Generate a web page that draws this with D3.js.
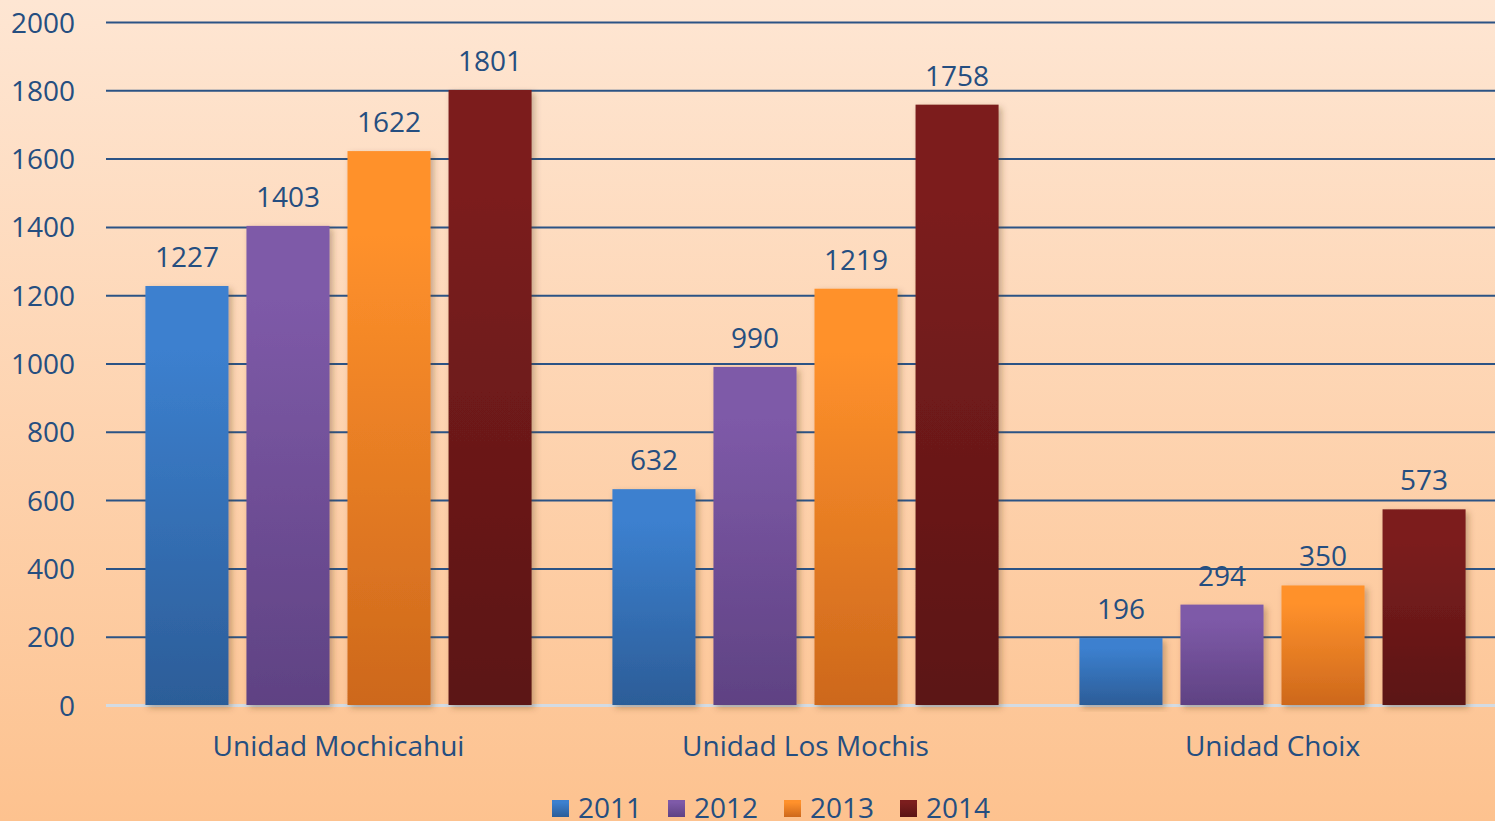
<!DOCTYPE html>
<html>
<head>
<meta charset="utf-8">
<script src="https://cdn.jsdelivr.net/npm/d3@7"></script>
<style>
  html, body { margin: 0; padding: 0; }
  body { width: 1495px; height: 821px; overflow: hidden; }
  svg { display: block; }
</style>
</head>
<body>
<div id="chart"></div>
<script>
const categories = ['Unidad Mochicahui', 'Unidad Los Mochis', 'Unidad Choix'];
const years = ['2011', '2012', '2013', '2014'];
const values2011 = [1227, 632, 196];
const values2012 = [1403, 990, 294];
const values2013 = [1622, 1219, 350];
const values2014 = [1801, 1758, 573];
const yTicks = [0, 200, 400, 600, 800, 1000, 1200, 1400, 1600, 1800, 2000];

const seriesValues = [values2011, values2012, values2013, values2014];
const topColors = ['#3c80cf', '#7e5aa8', '#ff912b', '#7c1e1e'];
const bottomColors = ['#2c5d98', '#5f4283', '#cd681c', '#5b1414'];

const chartWidth = 1495;
const chartHeight = 821;
const plotLeft = 106;
const plotRight = 1506; // category bands run a little past the canvas edge
const plotTop = 22;
const plotBottom = 705;
const textColor = '#254e80';
const font = '"Open Sans", "Noto Sans", sans-serif';
const fontSize = '28px';

const svg = d3.select('#chart')
  .append('svg')
  .attr('width', chartWidth)
  .attr('height', chartHeight);

const defs = svg.append('defs');

const bg = defs.append('linearGradient')
  .attr('id', 'bg')
  .attr('x1', 0).attr('y1', 0).attr('x2', 0).attr('y2', 1);
bg.append('stop').attr('offset', 0).attr('stop-color', '#fee6d3');
bg.append('stop').attr('offset', 1).attr('stop-color', '#fdc28f');

years.forEach((y, i) => {
  const g = defs.append('linearGradient')
    .attr('id', `bar${i}`)
    .attr('x1', 0).attr('y1', 0).attr('x2', 0).attr('y2', 1);
  g.append('stop').attr('offset', 0).attr('stop-color', topColors[i]);
  g.append('stop').attr('offset', 0.15).attr('stop-color', topColors[i]);
  g.append('stop').attr('offset', 1).attr('stop-color', bottomColors[i]);
});

const shadow = defs.append('filter')
  .attr('id', 'shadow')
  .attr('x', '-20%').attr('y', '-5%').attr('width', '140%').attr('height', '115%');
shadow.append('feDropShadow')
  .attr('dx', 3).attr('dy', 3).attr('stdDeviation', 3)
  .attr('flood-color', '#5a3a20').attr('flood-opacity', 0.35);

svg.append('rect')
  .attr('width', chartWidth)
  .attr('height', chartHeight)
  .attr('fill', 'url(#bg)');

const yScale = d3.scaleLinear()
  .domain([0, 2000])
  .range([plotBottom, plotTop]);

const x0 = d3.scaleBand()
  .domain(categories)
  .range([plotLeft - 1, plotRight])
  .padding(0);

const x1 = d3.scaleBand()
  .domain(years)
  .range([0, x0.bandwidth()])
  .paddingInner(0.178)
  .paddingOuter(0.4);

// gridlines + y labels
const yAxis = d3.axisLeft(yScale)
  .tickValues(yTicks)
  .tickFormat(d3.format('d'))
  .tickSize(-(chartWidth - plotLeft))
  .tickPadding(31);

const yG = svg.append('g')
  .attr('transform', `translate(${plotLeft} 0)`)
  .call(yAxis);
yG.select('.domain').remove();
yG.selectAll('line')
  .attr('stroke', '#2b5385')
  .attr('stroke-width', 2);
yG.selectAll('.tick')
  .filter((d) => d === 0)
  .select('line')
  .attr('stroke', '#d3dbe3')
  .attr('stroke-width', 3);
yG.selectAll('text')
  .attr('fill', textColor)
  .style('font-family', font)
  .style('font-size', fontSize)
  .attr('dy', '0.36em');

// bars
const groups = svg.append('g')
  .selectAll('g')
  .data(categories)
  .join('g')
  .attr('transform', (d) => `translate(${x0(d)} 0)`);

groups.selectAll('rect')
  .data((c, ci) => years.map((y, si) => ({ year: y, si, value: seriesValues[si][ci] })))
  .join('rect')
  .attr('x', (d) => x1(d.year))
  .attr('y', (d) => yScale(d.value))
  .attr('width', x1.bandwidth())
  .attr('height', (d) => yScale(0) - yScale(d.value))
  .attr('fill', (d) => `url(#bar${d.si})`)
  .attr('filter', 'url(#shadow)');

groups.selectAll('text')
  .data((c, ci) => years.map((y, si) => ({ year: y, value: seriesValues[si][ci] })))
  .join('text')
  .attr('x', (d) => x1(d.year) + x1.bandwidth() / 2)
  .attr('y', (d) => yScale(d.value) - 19)
  .attr('text-anchor', 'middle')
  .attr('fill', textColor)
  .style('font-family', font)
  .style('font-size', fontSize)
  .text((d) => d.value);

// category labels
svg.append('g')
  .selectAll('text')
  .data(categories)
  .join('text')
  .attr('x', (d) => x0(d) + x0.bandwidth() / 2)
  .attr('y', 756)
  .attr('text-anchor', 'middle')
  .attr('fill', textColor)
  .style('font-family', font)
  .style('font-size', fontSize)
  .text((d) => d);

// legend (cut by the bottom edge, as in the original)
const legend = svg.append('g')
  .attr('transform', 'translate(552 818)');

const items = legend.selectAll('g')
  .data(years)
  .join('g')
  .attr('transform', (d, i) => `translate(${i * 116} 0)`);

items.append('rect')
  .attr('x', 0)
  .attr('y', -18)
  .attr('width', 17)
  .attr('height', 17)
  .attr('fill', (d, i) => `url(#bar${i})`);

items.append('text')
  .attr('x', 26)
  .attr('fill', textColor)
  .style('font-family', font)
  .style('font-size', fontSize)
  .text((d) => d);
</script>
</body>
</html>
